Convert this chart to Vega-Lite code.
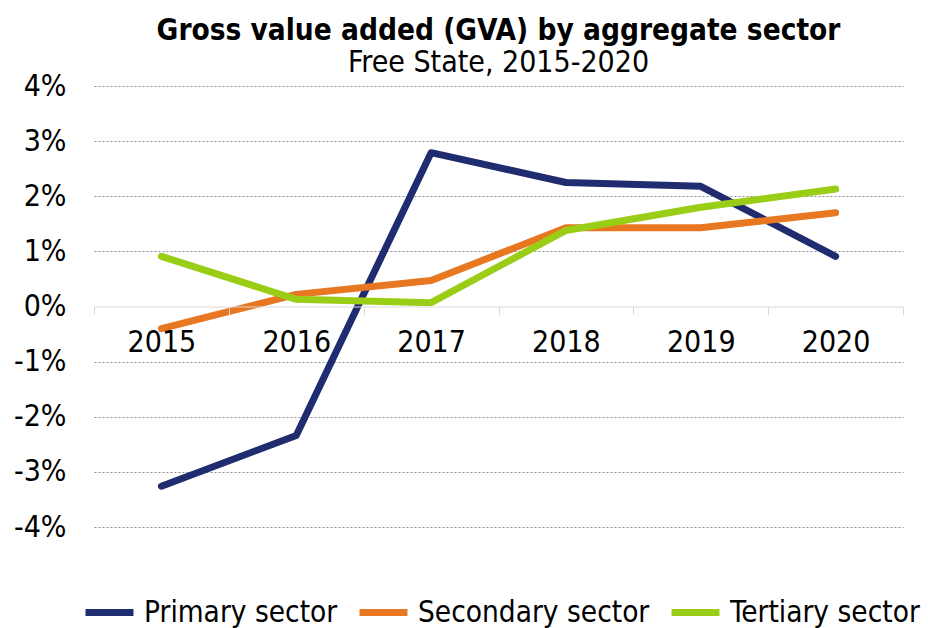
{
  "$schema": "https://vega.github.io/schema/vega-lite/v6.json",
  "width": 809,
  "height": 441,
  "autosize": "none",
  "padding": {"left": 94, "top": 86, "right": 25, "bottom": 101},
  "background": "white",
  "title": {
    "text": "Gross value added (GVA) by aggregate sector",
    "subtitle": "Free State, 2015-2020",
    "anchor": "middle",
    "font": "DejaVu Sans Condensed",
    "fontSize": 29.5,
    "fontWeight": "bold",
    "color": "black",
    "subtitleFont": "DejaVu Sans Condensed",
    "subtitleFontSize": 30,
    "subtitleColor": "black",
    "subtitlePadding": 2,
    "offset": -8
  },
  "config": {
    "view": {"stroke": null},
    "font": "DejaVu Sans Condensed"
  },
  "data": {
    "values": [
      {"year": "2015", "sector": "Primary sector", "value": -3.26},
      {"year": "2016", "sector": "Primary sector", "value": -2.34},
      {"year": "2017", "sector": "Primary sector", "value": 2.79},
      {"year": "2018", "sector": "Primary sector", "value": 2.25},
      {"year": "2019", "sector": "Primary sector", "value": 2.18},
      {"year": "2020", "sector": "Primary sector", "value": 0.91},
      {"year": "2015", "sector": "Secondary sector", "value": -0.40},
      {"year": "2016", "sector": "Secondary sector", "value": 0.22},
      {"year": "2017", "sector": "Secondary sector", "value": 0.47},
      {"year": "2018", "sector": "Secondary sector", "value": 1.43},
      {"year": "2019", "sector": "Secondary sector", "value": 1.43},
      {"year": "2020", "sector": "Secondary sector", "value": 1.70},
      {"year": "2015", "sector": "Tertiary sector", "value": 0.91},
      {"year": "2016", "sector": "Tertiary sector", "value": 0.13},
      {"year": "2017", "sector": "Tertiary sector", "value": 0.07},
      {"year": "2018", "sector": "Tertiary sector", "value": 1.38},
      {"year": "2019", "sector": "Tertiary sector", "value": 1.80},
      {"year": "2020", "sector": "Tertiary sector", "value": 2.13}
    ]
  },
  "mark": {"type": "line", "strokeWidth": 7, "strokeCap": "round", "strokeJoin": "round"},
  "encoding": {
    "x": {
      "field": "year",
      "type": "ordinal",
      "bandPosition": 0.5,
      "scale": {"type": "band", "paddingInner": 0, "paddingOuter": 0},
      "axis": {
        "title": null,
        "orient": "bottom",
        "offset": -220.5,
        "labelAngle": 0,
        "labelFontSize": 30,
        "labelColor": "black",
        "labelPadding": 13,
        "domainColor": "#d9d9d9",
        "tickColor": "#d9d9d9",
        "tickSize": 8,
        "tickBand": "extent",
        "grid": false,
        "zindex": 1
      }
    },
    "y": {
      "field": "value",
      "type": "quantitative",
      "scale": {"domain": [-4, 4], "nice": false, "zero": false},
      "axis": {
        "title": null,
        "values": [-4, -3, -2, -1, 0, 1, 2, 3, 4],
        "labelExpr": "datum.value + '%'",
        "labelFontSize": 30,
        "labelColor": "black",
        "labelPadding": 28,
        "domain": false,
        "ticks": false,
        "grid": true,
        "gridColor": {"condition": {"test": "datum.value === 0", "value": "transparent"}, "value": "#8c8c8c"},
        "gridDash": [2, 2],
        "gridWidth": 1
      }
    },
    "color": {
      "field": "sector",
      "type": "nominal",
      "scale": {
        "domain": ["Primary sector", "Secondary sector", "Tertiary sector"],
        "range": ["#1f2c6f", "#e87722", "#9acd16"]
      },
      "legend": {
        "title": null,
        "orient": "none",
        "legendX": -12,
        "legendY": 499,
        "direction": "horizontal",
        "symbolType": "stroke",
        "symbolSize": 2300,
        "symbolStrokeWidth": 7,
        "labelFontSize": 29.5,
        "labelColor": "black",
        "labelOffset": 7,
        "columnPadding": 7,
        "labelLimit": 400
      }
    }
  }
}
